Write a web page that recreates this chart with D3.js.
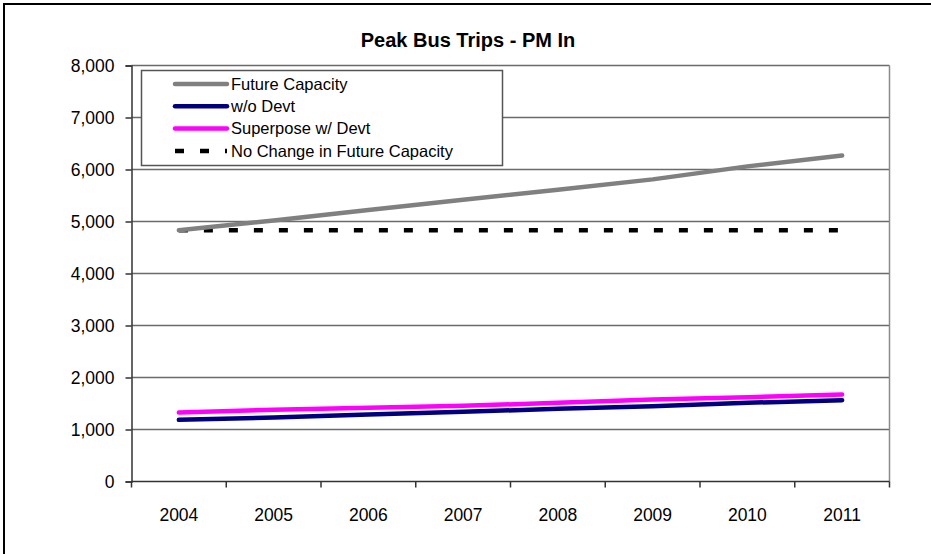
<!DOCTYPE html>
<html>
<head>
<meta charset="utf-8">
<script src="https://cdn.jsdelivr.net/npm/d3@7"></script>
<style>
  html, body { margin: 0; padding: 0; background: #fff; }
  svg { display: block; }
  text { font-family: "Liberation Sans", Arial, sans-serif; fill: #000; }
</style>
</head>
<body>
<svg id="chart" width="931" height="554"></svg>
<script>
const years = ["2004", "2005", "2006", "2007", "2008", "2009", "2010", "2011"];
const futureCapacity = [4830, 5020, 5220, 5420, 5610, 5810, 6060, 6270];
const withoutDevt = [1186, 1231, 1288, 1340, 1398, 1449, 1513, 1564];
const superposeWithDevt = [1327, 1379, 1417, 1456, 1513, 1577, 1622, 1673];
const noChangeCapacity = [4830, 4830, 4830, 4830, 4830, 4830, 4830, 4830];
const yTicks = [0, 1000, 2000, 3000, 4000, 5000, 6000, 7000, 8000];
const seriesNames = ["Future Capacity", "w/o Devt", "Superpose w/ Devt", "No Change in Future Capacity"];
const title = "Peak Bus Trips - PM In";

const series = [
  { name: seriesNames[0], values: futureCapacity, color: "#808080", width: 4.5, dash: null },
  { name: seriesNames[1], values: withoutDevt, color: "#000080", width: 4.5, dash: null },
  { name: seriesNames[2], values: superposeWithDevt, color: "#ff00ff", width: 4.5, dash: null },
  { name: seriesNames[3], values: noChangeCapacity, color: "#000000", width: 4.5, dash: "9,16" }
];

const svg = d3.select("#chart");
const plot = { left: 131.5, right: 889.5, top: 65.5, bottom: 481.5 };

const x = d3.scaleBand().domain(years).range([plot.left, plot.right]).padding(0);
const y = d3.scaleLinear().domain([0, 8000]).range([plot.bottom, plot.top]);

// outer border
svg.append("rect").attr("x", 4).attr("y", 4).attr("width", 960).attr("height", 600)
  .attr("fill", "none").attr("stroke", "#000").attr("stroke-width", 2);

// title
svg.append("text").attr("x", 468).attr("y", 47).attr("text-anchor", "middle")
  .attr("font-size", 20).attr("font-weight", "bold").text(title);

// gridlines
svg.append("g").selectAll("line").data(yTicks.filter(d => d > 0)).join("line")
  .attr("x1", plot.left).attr("x2", plot.right)
  .attr("y1", d => y(d)).attr("y2", d => y(d))
  .attr("stroke", "#6a6a6a").attr("stroke-width", 1.5);

// right border of plot area
svg.append("line").attr("x1", plot.right).attr("x2", plot.right)
  .attr("y1", plot.top).attr("y2", plot.bottom)
  .attr("stroke", "#8a8a8a").attr("stroke-width", 1.5);

// y axis
const yAxis = d3.axisLeft(y).tickValues(yTicks).tickSize(6).tickPadding(11)
  .tickFormat(d3.format(","));
const gy = svg.append("g").attr("transform", `translate(${plot.left},0)`).call(yAxis);
gy.select(".domain").attr("stroke", "#333").attr("stroke-width", 1.5);
gy.selectAll(".tick line").attr("stroke", "#333").attr("stroke-width", 1.5);
gy.selectAll(".tick text").attr("font-size", 17.5).attr("font-family", "Liberation Sans, Arial, sans-serif").attr("fill", "#000");

// x axis: ticks at category boundaries
const gx = svg.append("g").attr("transform", `translate(0,${plot.bottom})`);
gx.append("line").attr("x1", plot.left).attr("x2", plot.right).attr("y1", 0).attr("y2", 0)
  .attr("stroke", "#333").attr("stroke-width", 1.5);
const boundaries = years.map(d => x(d)).concat([x(years[years.length - 1]) + x.bandwidth()]);
gx.selectAll("line.tk").data(boundaries).join("line").attr("class", "tk")
  .attr("x1", d => d).attr("x2", d => d).attr("y1", 0).attr("y2", 6)
  .attr("stroke", "#333").attr("stroke-width", 1.5);
gx.selectAll("text").data(years).join("text")
  .attr("x", d => x(d) + x.bandwidth() / 2).attr("y", 39)
  .attr("text-anchor", "middle").attr("font-size", 17.5).text(d => d);

// lines
const line = d3.line().x((d, i) => x(years[i]) + x.bandwidth() / 2).y(d => y(d));
const drawOrder = [series[3], series[0], series[2], series[1]];
svg.append("g").selectAll("path").data(drawOrder).join("path")
  .attr("d", d => line(d.values))
  .attr("fill", "none").attr("stroke", d => d.color).attr("stroke-width", d => d.width)
  .attr("stroke-dasharray", d => d.dash).attr("stroke-linecap", d => d.dash ? "butt" : "round")
  .attr("stroke-linejoin", "round");

// legend
const lg = svg.append("g");
lg.append("rect").attr("x", 141.5).attr("y", 70.5).attr("width", 361).attr("height", 95)
  .attr("fill", "#fff").attr("stroke", "#555").attr("stroke-width", 1.5);
const rowY = i => 84 + i * 22.3;
const items = lg.selectAll("g.item").data(series).join("g").attr("class", "item");
items.append("line").attr("x1", 175).attr("x2", 227)
  .attr("y1", (d, i) => rowY(i)).attr("y2", (d, i) => rowY(i))
  .attr("stroke", d => d.color).attr("stroke-width", d => d.width)
  .attr("stroke-dasharray", d => d.dash).attr("stroke-linecap", d => d.dash ? "butt" : "round");
items.append("text").attr("x", 231).attr("y", (d, i) => rowY(i)).attr("dy", "0.35em")
  .attr("font-size", 16.5).text(d => d.name);
</script>
</body>
</html>
